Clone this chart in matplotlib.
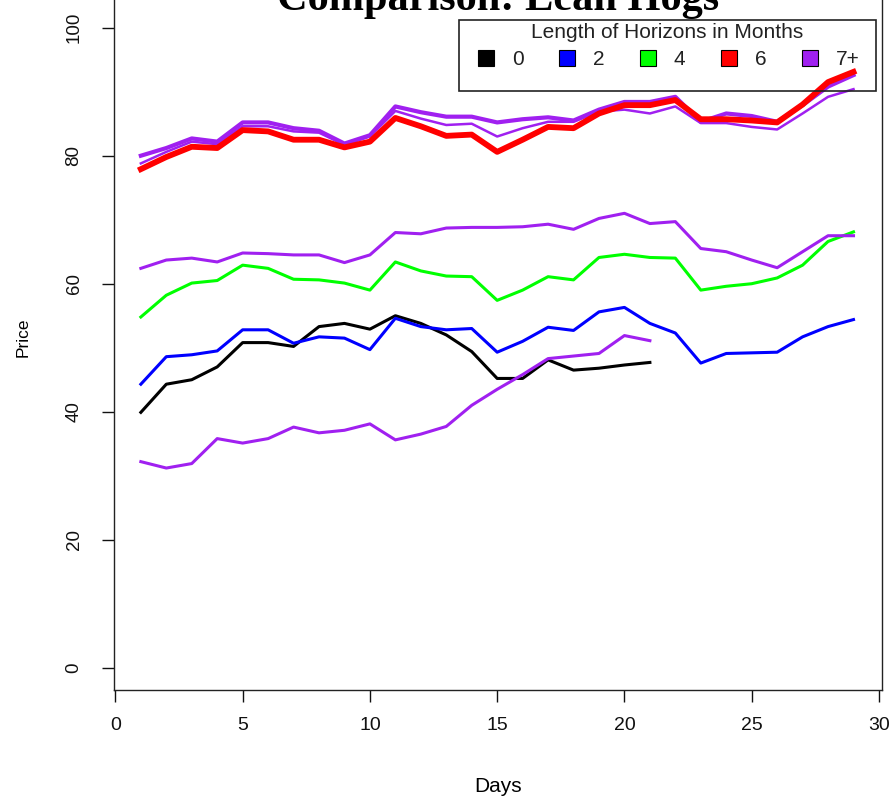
import matplotlib
matplotlib.use("Agg")
import matplotlib.pyplot as plt
from matplotlib.lines import Line2D
from matplotlib.patches import Rectangle

# ---------------- data ----------------
days_full = list(range(1, 30))
days_short = list(range(1, 22))

h0 = [39.9, 44.3, 45.0, 47.0, 50.8, 50.8, 50.2, 53.3, 53.8, 52.9, 55.0, 53.8, 52.0,
      49.4, 45.2, 45.2, 48.1, 46.5, 46.8, 47.3, 47.7]
h2 = [44.3, 48.6, 48.9, 49.5, 52.8, 52.8, 50.7, 51.7, 51.5, 49.7, 54.6, 53.3, 52.8,
      53.0, 49.3, 51.0, 53.2, 52.7, 55.6, 56.3, 53.8, 52.3, 47.6, 49.1, 49.2, 49.3,
      51.7, 53.3, 54.4]
h4 = [54.8, 58.2, 60.1, 60.5, 62.9, 62.4, 60.7, 60.6, 60.1, 59.0, 63.4, 62.0, 61.2,
      61.1, 57.4, 59.0, 61.1, 60.6, 64.1, 64.6, 64.1, 64.0, 59.0, 59.6, 60.0, 60.9,
      62.9, 66.6, 68.1]
h6 = [77.9, 79.8, 81.4, 81.2, 84.0, 83.8, 82.5, 82.5, 81.3, 82.2, 85.9, 84.6, 83.1,
      83.3, 80.6, 82.5, 84.5, 84.3, 86.6, 87.9, 87.9, 88.7, 85.7, 85.7, 85.5, 85.2,
      88.0, 91.5, 93.1]
h7_top = [80.0, 81.2, 82.7, 82.2, 85.2, 85.2, 84.3, 83.9, 81.9, 83.2, 87.7, 86.8, 86.1,
          86.1, 85.2, 85.7, 86.0, 85.5, 87.2, 88.4, 88.4, 89.2, 85.3, 86.6, 86.2, 85.3,
          87.9, 90.8, 92.6]
h7_second = [78.8, 80.6, 82.2, 81.8, 84.6, 84.6, 83.8, 83.6, 81.7, 83.0, 87.0, 85.8, 84.8,
             85.0, 83.0, 84.3, 85.3, 85.3, 86.9, 87.2, 86.6, 87.7, 85.1, 85.1, 84.5, 84.1,
             86.6, 89.2, 90.4]
h7_mid = [62.4, 63.7, 64.0, 63.4, 64.8, 64.7, 64.5, 64.5, 63.3, 64.5, 68.0, 67.8, 68.7,
          68.8, 68.8, 68.9, 69.3, 68.5, 70.2, 71.0, 69.4, 69.7, 65.5, 65.0, 63.7, 62.5,
          65.0, 67.5, 67.5]
h7_low = [32.2, 31.2, 31.9, 35.8, 35.1, 35.8, 37.6, 36.7, 37.1, 38.1, 35.6, 36.5, 37.7,
          41.0, 43.5, 45.8, 48.3, 48.7, 49.1, 51.9, 51.1]

legend_labels = ["0", "2", "4", "6", "7+"]
legend_colors = ["#000000", "#0000FF", "#00FF00", "#FF0000", "#A020F0"]
xticks = [0, 5, 10, 15, 20, 25, 30]
yticks = [0, 20, 40, 60, 80, 100]
title = "Comparison: Lean Hogs"
xlabel = "Days"
ylabel = "Price"
legend_title = "Length of Horizons in Months"

# ---------------- figure ----------------
W, H = 896, 801
fig = plt.figure(figsize=(W / 100, H / 100), dpi=100)
ax = fig.add_axes([114 / W, 1 - 690 / H, 768 / W, 690 / H])

purple = legend_colors[4]
ax.plot(days_short, h0, color=legend_colors[0], lw=2.2, zorder=3)
ax.plot(days_full, h2, color=legend_colors[1], lw=2.2, zorder=3)
ax.plot(days_full, h4, color=legend_colors[2], lw=2.2, zorder=3)
ax.plot(days_short, h7_low, color=purple, lw=2.2, zorder=4)
ax.plot(days_full, h7_mid, color=purple, lw=2.2, zorder=4)
ax.plot(days_full, h7_top, color=purple, lw=3.0, zorder=4)
ax.plot(days_full, h7_second, color=purple, lw=1.8, zorder=4)
ax.plot(days_full, h6, color=legend_colors[3], lw=4.2, zorder=5)

ax.set_xlim(-0.055, 30.12)
ax.set_ylim(-3.48, 104.33)

ax.set_xticks(xticks)
ax.set_yticks(yticks)
ax.set_xticklabels([str(t) for t in xticks], fontsize=14, family=["Liberation Sans", "DejaVu Sans"])
ax.set_yticklabels([str(t) for t in yticks], fontsize=13.5,
                   family=["Liberation Sans Narrow", "Liberation Sans", "DejaVu Sans"])
for lab in ax.get_yticklabels():
    lab.set_rotation(90)
    lab.set_va("center")
    lab.set_ha("right")
ax.tick_params(axis="both", direction="out", length=8.6, width=1.0, colors="#111111")
ax.tick_params(axis="x", pad=11)
ax.tick_params(axis="y", pad=14)

for side in ["left", "bottom", "right"]:
    ax.spines[side].set_linewidth(1.0)
    ax.spines[side].set_color("#222222")
ax.spines["top"].set_visible(False)

ax.set_xlabel(xlabel, fontsize=15, family=["Liberation Sans", "DejaVu Sans"])
ax.xaxis.label.set_va("center")
ax.xaxis.set_label_coords(0.5, (690 - 786) / 690)
ax.set_ylabel(ylabel, fontsize=12.5, family=["Liberation Sans Narrow", "Liberation Sans", "DejaVu Sans"])
ax.yaxis.label.set_va("center")
ax.yaxis.set_label_coords((23.5 - 114) / 768, (690 - 337) / 690)

fig.text(498 / W, 1 - 10 / H, title, ha="center", va="baseline", fontsize=30.5,
         family=["Liberation Serif", "DejaVu Serif"], weight="bold")

# legend
handles = [Line2D([], [], linestyle="none", marker="s", markersize=11.5,
                  markerfacecolor=c, markeredgecolor="black", markeredgewidth=0.8)
           for c in legend_colors]
leg = ax.legend(handles, legend_labels, title=legend_title, ncol=5, loc="upper center",
                bbox_to_anchor=(667.5 / W, 1 - 23 / H), bbox_transform=fig.transFigure,
                frameon=False, borderpad=0.0, borderaxespad=0.0,
                title_fontsize=15, handlelength=1.0, handletextpad=0.76,
                columnspacing=1.57, labelspacing=0.38,
                prop={"family": ["Liberation Sans", "DejaVu Sans"], "size": 15})
leg.get_title().set_family(["Liberation Sans", "DejaVu Sans"])
leg.get_title().set_color("#222222")
for t in leg.get_texts():
    t.set_color("#222222")
fig.add_artist(Rectangle((459 / W, 1 - 91 / H), 417 / W, 71 / H, transform=fig.transFigure,
                         fill=False, edgecolor="#222222", linewidth=1.2, zorder=6))

fig.savefig("out.png", dpi=100)
